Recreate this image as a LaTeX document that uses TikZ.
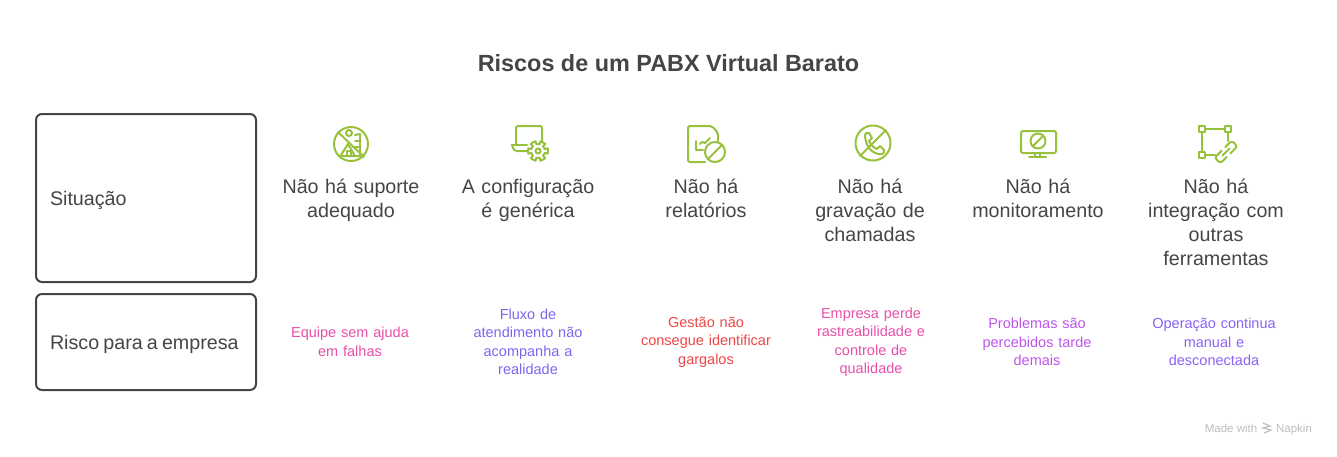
\documentclass[tikz,border=0pt]{standalone}
\usepackage{fontspec}
\setmainfont{Liberation Sans}
\usetikzlibrary{positioning}
\definecolor{inkgray}{HTML}{454545}
\definecolor{icongreen}{HTML}{97C13C}
\definecolor{riskpink}{HTML}{E84FA8}
\definecolor{riskindigo}{HTML}{7C66EE}
\definecolor{riskred}{HTML}{EE4646}
\definecolor{riskorchid}{HTML}{BE55EA}
\definecolor{riskviolet}{HTML}{8A62F2}
\definecolor{markgray}{HTML}{BDBDBD}
\newcommand{\sz}[1]{\fontsize{#1}{#1}\selectfont}
\tikzset{
  iconline/.style={draw=icongreen, line width=2pt, line cap=round, line join=round, x=1pt, y=-1pt},
  pics/nosupport/.style={code={
    \draw[iconline] (0,0) circle (17);
    \draw[iconline] (-13,-12) -- (13,13);
    \draw[iconline] (-2,-11) circle (3);
    \draw[iconline] (4,-9) -- (9,-10) -- (9,12) -- (5,12);
    \draw[iconline] (4,-3) -- (9,-3) (4,3) -- (9,3);
    \draw[iconline] (-10,11) -- (-3,0) -- (4,12) -- (-10,12);
    \draw[iconline] (-4,12) -- (-4,7) -- (0,7) -- (0,12);
  }},
  pics/laptopgear/.style={code={
    \draw[iconline, rounded corners=2pt] (0,19) -- (0,0) -- (26,0) -- (26,15);
    \draw[iconline] (-4,19) -- (11,19);
    \draw[iconline, rounded corners=3pt] (-4,19) -- (-2,25) -- (11,25);
    \foreach \a in {0,60,...,300}
      \draw[iconline] (22,25) ++(\a-16:7) -- ++(\a-16:3) arc (\a-16:\a+16:10) -- ++(\a+16:-3) arc (\a+16:\a+44:7);
    \draw[iconline] (22,25) circle (2.5);
  }},
  pics/nochart/.style={code={
    \draw[iconline, rounded corners=2pt] (17,36) -- (0,36) -- (0,0) -- (24,0) -- (30,7) -- (30,15);
    \draw[iconline] (8,15) -- (8,24) -- (15,24);
    \draw[iconline] (12,18) -- (14,16) -- (17,17) -- (22,12);
    \draw[iconline] (27,26) circle (10);
    \draw[iconline] (20,33) -- (34,19);
  }},
  pics/nophone/.style={code={
    \draw[iconline] (0,0) circle (17.5);
    \draw[iconline] (-13,13) -- (13,-13);
    \draw[iconline] (-8,-7) .. controls (-8,-10) and (-6,-11) .. (-4,-10) -- (-1,-5) -- (-4,-2) .. controls (-2,2) and (1,5) .. (4,6) -- (7,3) -- (11,7) .. controls (12,10) and (9,12) .. (6,11) .. controls (-2,10) and (-7,3) .. (-8,-7);
  }},
  pics/nomonitor/.style={code={
    \draw[iconline, rounded corners=1.5pt] (0,0) rectangle (35,22);
    \draw[iconline] (17,10) circle (7.5);
    \draw[iconline] (12,15) -- (22,5);
    \draw[iconline] (14,22) -- (14,26) (19,22) -- (19,26);
    \draw[iconline] (8,26) -- (25,26);
  }},
  pics/linkedsquares/.style={code={
    \draw[iconline] (-3,-3) rectangle (3,3);
    \draw[iconline] (23,-3) rectangle (29,3);
    \draw[iconline] (-3,23) rectangle (3,29);
    \draw[iconline] (3,0) -- (23,0) (0,3) -- (0,23) (3,26) -- (13,26) (26,3) -- (26,12);
    \begin{scope}[shift={(24pt,-23pt)}, rotate=45]
      \draw[iconline, rounded corners=2.5pt] (-2,-4) -- (-12,-4) -- (-12,4) -- (-3,4);
      \draw[iconline, rounded corners=2.5pt] (2,4) -- (12,4) -- (12,-4) -- (3,-4);
      \draw[iconline] (-5,0) -- (5,0);
    \end{scope}
  }}
}
\begin{document}
\begin{tikzpicture}[
  rowbox/.style={draw=inkgray, line width=2pt, rounded corners=6pt, text=inkgray, font=\sz{19.7}, align=left, anchor=north west, text width=192pt, text height=14pt, text depth=0pt, inner xsep=14pt, inner ysep=0pt, outer sep=0pt, minimum width=220pt},
  situation/.style={text=inkgray, font=\sz{19.7}, align=center, anchor=north, inner sep=0pt, text width=150pt},
  risk/.style={font=\sz{14.5}, align=center, inner sep=0pt, text width=150pt}]
\useasboundingbox (0pt,0pt) rectangle (1337pt,-456pt);
\draw (668.5pt, -63pt)node[text=inkgray, font=\sz{23.4}\bfseries](title){Riscos de um PABX Virtual Barato};
\draw (36pt, -114pt)node[rowbox, minimum height=168pt](situationbox){Situação};
\draw (36pt, -294pt)node[rowbox, minimum height=96pt](riskbox){\mbox{\spaceskip=0.21em Risco para a empresa}};
\draw (351pt, -144pt)pic{nosupport};
\draw (516pt, -126pt)pic{laptopgear};
\draw (688pt, -126pt)pic{nochart};
\draw (873pt, -143pt)pic{nophone};
\draw (1021pt, -131pt)pic{nomonitor};
\draw (1202pt, -129pt)pic{linkedsquares};
\draw (351pt, -179pt)node[situation](s0){Não há suporte\\[4.3pt]adequado};
\draw (528pt, -179pt)node[situation](s1){A configuração\\[4.3pt]é genérica};
\draw (706pt, -179pt)node[situation](s2){Não há\\[4.3pt]relatórios};
\draw (870pt, -179pt)node[situation](s3){Não há\\[4.3pt]gravação de\\[4.3pt]chamadas};
\draw (1038pt, -179pt)node[situation](s4){Não há\\[4.3pt]monitoramento};
\draw (1216pt, -179pt)node[situation](s5){Não há\\[4.3pt]integração com\\[4.3pt]outras\\[4.3pt]ferramentas};
\draw (350pt, -342pt)node[risk, text=riskpink](r0){Equipe sem ajuda\\[4pt]em falhas};
\draw (528pt, -342pt)node[risk, text=riskindigo](r1){Fluxo de\\[4pt]atendimento não\\[4pt]acompanha a\\[4pt]realidade};
\draw (706pt, -342pt)node[risk, text=riskred](r2){Gestão não\\[4pt]consegue identificar\\[4pt]gargalos};
\draw (871pt, -342pt)node[risk, text=riskpink](r3){Empresa perde\\[4pt]rastreabilidade e\\[4pt]controle de\\[4pt]qualidade};
\draw (1037pt, -342pt)node[risk, text=riskorchid](r4){Problemas são\\[4pt]percebidos tarde\\[4pt]demais};
\draw (1214pt, -342pt)node[risk, text=riskviolet](r5){Operação continua\\[4pt]manual e\\[4pt]desconectada};
\draw (1231pt, -432pt)node[text=markgray, font=\sz{11.5}, inner sep=0pt, anchor=base](made){Made with};
\draw (1294pt, -432pt)node[text=markgray, font=\sz{11.5}, inner sep=0pt, anchor=base](napkin){Napkin};
\draw[draw=markgray, line width=1.2pt] (1263pt,-423pt) -- (1270pt,-426pt) -- (1263pt,-428pt) -- (1271pt,-430pt) -- (1264pt,-433pt);
\end{tikzpicture}
\end{document}
